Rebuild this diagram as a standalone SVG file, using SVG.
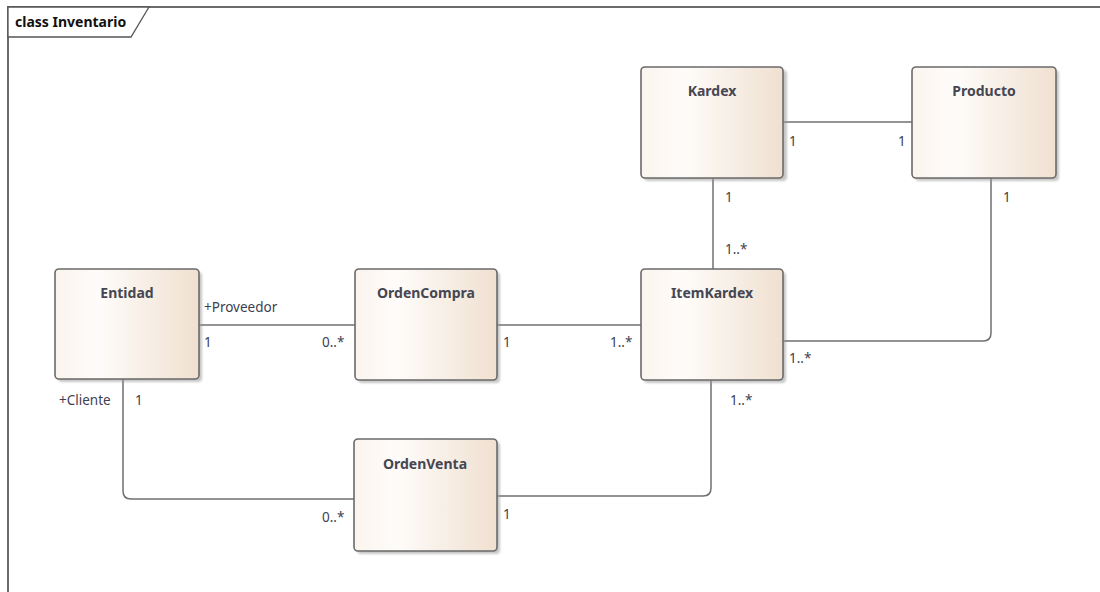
<svg xmlns="http://www.w3.org/2000/svg" width="1100" height="592" viewBox="0 0 1100 592">
<defs>
<linearGradient id="fill" x1="0" y1="0" x2="1" y2="0">
<stop offset="0" stop-color="#fbf4ee"/>
<stop offset="0.3" stop-color="#fefcfa"/>
<stop offset="1" stop-color="#f0e0d0"/>
</linearGradient>
<filter id="sh" x="-10%" y="-10%" width="130%" height="130%">
<feGaussianBlur stdDeviation="1.2"/>
</filter>
</defs>
<style>
.frame{fill:none;stroke:#6b6b6b;stroke-width:2}
.tab{fill:#fff;stroke:#555;stroke-width:1.3}
.title{font-family:"Noto Sans","Open Sans",sans-serif;font-size:14px;font-weight:bold;fill:#111}
.shadow{fill:#999;opacity:0.55;filter:url(#sh)}
.box{fill:url(#fill);stroke:#6a6a6a;stroke-width:1.6}
.name{font-family:"Noto Sans","Open Sans",sans-serif;font-size:14px;font-weight:bold;fill:#464652;text-anchor:middle}
.conn{fill:none;stroke:#707070;stroke-width:1.5}
.lbl{font-family:"Noto Sans","Open Sans",sans-serif;font-size:13.5px;fill:#404050}
</style>
<rect width="1100" height="592" fill="#fff"/>
<rect class="frame" x="8" y="7" width="1100" height="600"/>
<path class="tab" d="M8,7 H149 L131,37 H8 Z"/>
<text class="title" x="15" y="27">class Inventario</text>

<g id="connectors">
<path class="conn" d="M783,122 H912"/>
<path class="conn" d="M713,178 V269"/>
<path class="conn" d="M991,178 V333 Q991,341 983,341 H783"/>
<path class="conn" d="M199,325 H355"/>
<path class="conn" d="M497,325 H641"/>
<path class="conn" d="M123,379 V491 Q123,499 131,499 H354"/>
<path class="conn" d="M711,380 V488 Q711,496 703,496 H497"/>
<text class="lbl" x="789" y="146">1</text>
<text class="lbl" x="898" y="146">1</text>
<text class="lbl" x="725" y="202">1</text>
<text class="lbl" x="725" y="254">1..*</text>
<text class="lbl" x="1003" y="202">1</text>
<text class="lbl" x="789" y="363">1..*</text>
<text class="lbl" x="204" y="312">+Proveedor</text>
<text class="lbl" x="204" y="347">1</text>
<text class="lbl" x="322" y="347">0..*</text>
<text class="lbl" x="503" y="347">1</text>
<text class="lbl" x="610" y="347">1..*</text>
<text class="lbl" x="59" y="405">+Cliente</text>
<text class="lbl" x="135" y="405">1</text>
<text class="lbl" x="730" y="405">1..*</text>
<text class="lbl" x="322" y="522">0..*</text>
<text class="lbl" x="503" y="519">1</text>
</g>

<g id="Kardex">
<rect class="shadow" x="644" y="70" width="143" height="111" rx="4"/>
<rect class="box" x="641" y="67" width="142" height="111" rx="4"/>
<text class="name" x="712" y="96">Kardex</text>
</g>
<g id="Producto">
<rect class="shadow" x="915" y="70" width="144" height="111" rx="4"/>
<rect class="box" x="912" y="67" width="144" height="111" rx="4"/>
<text class="name" x="984" y="96">Producto</text>
</g>
<g id="Entidad">
<rect class="shadow" x="58" y="272" width="144" height="110" rx="4"/>
<rect class="box" x="55" y="269" width="144" height="110" rx="4"/>
<text class="name" x="127" y="298">Entidad</text>
</g>
<g id="OrdenCompra">
<rect class="shadow" x="358" y="272" width="142" height="111" rx="4"/>
<rect class="box" x="355" y="269" width="142" height="111" rx="4"/>
<text class="name" x="426" y="298">OrdenCompra</text>
</g>
<g id="ItemKardex">
<rect class="shadow" x="644" y="272" width="142" height="111" rx="4"/>
<rect class="box" x="641" y="269" width="142" height="111" rx="4"/>
<text class="name" x="712" y="298">ItemKardex</text>
</g>
<g id="OrdenVenta">
<rect class="shadow" x="357" y="442" width="143" height="112" rx="4"/>
<rect class="box" x="354" y="439" width="143" height="112" rx="4"/>
<text class="name" x="425" y="469">OrdenVenta</text>
</g>
</svg>
